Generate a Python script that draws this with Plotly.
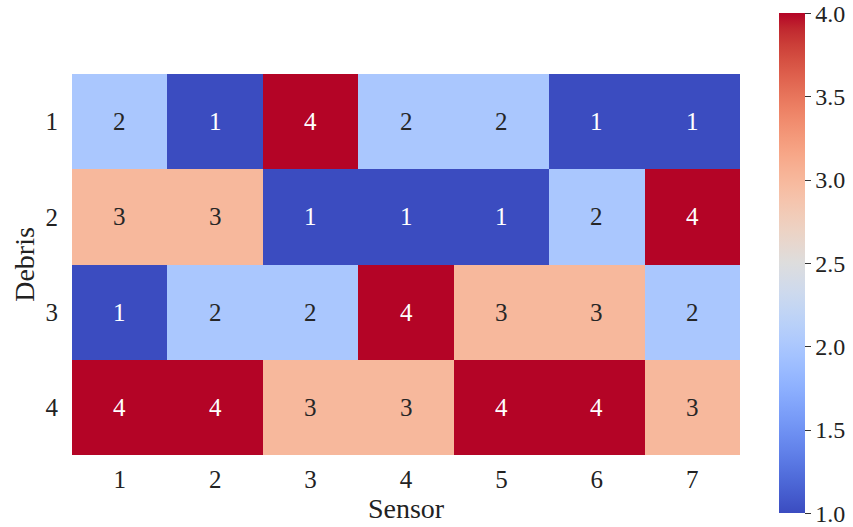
import plotly.graph_objects as go

sensors = ["1", "2", "3", "4", "5", "6", "7"]
debris = ["1", "2", "3", "4"]
values = [
    [2, 1, 4, 2, 2, 1, 1],
    [3, 3, 1, 1, 1, 2, 4],
    [1, 2, 2, 4, 3, 3, 2],
    [4, 4, 3, 3, 4, 4, 3],
]
cbar_vals = [1, 1.5, 2, 2.5, 3, 3.5, 4]
cbar_text = ["1.0", "1.5", "2.0", "2.5", "3.0", "3.5", "4.0"]

cw = [
    (59, 76, 192), (68, 90, 204), (77, 104, 215), (87, 117, 225), (98, 130, 234),
    (108, 142, 241), (119, 154, 247), (130, 165, 251), (141, 176, 254), (152, 185, 255),
    (163, 194, 255), (174, 201, 253), (184, 208, 249), (194, 213, 244), (204, 217, 238),
    (213, 219, 230), (221, 221, 221), (229, 216, 209), (236, 211, 197), (241, 204, 185),
    (245, 196, 173), (247, 187, 160), (247, 177, 148), (247, 166, 135), (244, 154, 123),
    (241, 141, 111), (236, 127, 99), (229, 112, 88), (222, 96, 77), (213, 80, 66),
    (203, 62, 56), (192, 40, 47), (180, 4, 38),
]
colorscale = [[i / (len(cw) - 1), "rgb(%d,%d,%d)" % c] for i, c in enumerate(cw)]

FONT = "Liberation Serif, Times New Roman, serif"
TICK = 25

xi = list(range(len(sensors)))
yi = list(range(len(debris)))

fig = go.Figure(go.Heatmap(
    z=values, x=xi, y=yi, zmin=1, zmax=4,
    colorscale=colorscale, xgap=0, ygap=0,
    colorbar=dict(
        x=1.058, xanchor="left", xpad=0, ypad=10, y=0.503, yanchor="middle",
        lenmode="pixels", len=520, thickness=26, outlinewidth=0,
        tickmode="array", tickvals=cbar_vals, ticktext=cbar_text,
        ticks="outside", ticklen=6, tickcolor="#333", tickwidth=1.2,
        ticklabeloverflow="allow",
        tickfont=dict(family=FONT, size=24, color="#222"),
    ),
))

for i, row in enumerate(values):
    for j, v in enumerate(row):
        fig.add_annotation(
            x=xi[j], y=yi[i], xref="x", yref="y", text=str(v), showarrow=False,
            font=dict(family=FONT, size=TICK, color="white" if v in (1, 4) else "#262626"),
        )

fig.update_layout(
    width=853, height=527,
    margin=dict(l=72, r=113, t=74, b=72, autoexpand=False),
    paper_bgcolor="white", plot_bgcolor="white",
    font=dict(family=FONT, color="#222"),
    xaxis=dict(title=dict(text="Sensor", font=dict(family=FONT, size=28), standoff=0),
               tickmode="array", tickvals=xi, ticktext=sensors, automargin=False,
               tickfont=dict(family=FONT, size=TICK), ticks="", showgrid=False, zeroline=False,
               ticklabelstandoff=7,
               range=[-0.5, len(sensors) - 0.5]),
    yaxis=dict(title=dict(text="Debris", font=dict(family=FONT, size=28), standoff=2),
               tickmode="array", tickvals=yi, ticktext=debris, automargin=False,
               tickfont=dict(family=FONT, size=TICK), ticks="", showgrid=False, zeroline=False,
               ticklabelstandoff=13,
               range=[len(debris) - 0.5, -0.5]),
)

fig.write_html(
    "out.html",
    config={"displayModeBar": False},
    post_script="document.body.style.margin='0';document.body.style.overflow='hidden';",
)
